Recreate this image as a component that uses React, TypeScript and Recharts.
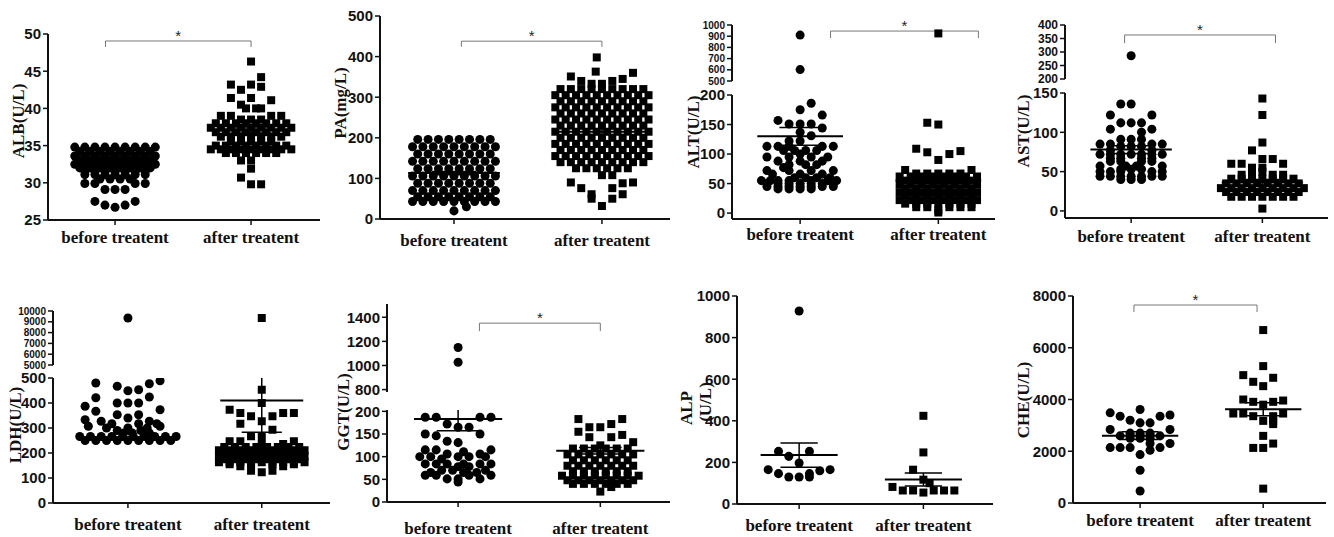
import { ReferenceLine, Scatter, ScatterChart, XAxis, YAxis } from 'recharts'

// row = [value, count] (centred run of dots) or [value, [slot offsets]]
type Row = [number, number | number[]]

const CATEGORIES = ['before treatent', 'after treatent']

const ALB_TICKS = [25, 30, 35, 40, 45, 50]
const ALB_BEFORE: Row[] = [
	[34.8, 9], [34.2, 8], [33.6, 9], [33.0, 8], [32.5, 9], [32.0, 8], [31.6, 7],
	[31.1, 7], [30.5, 4], [29.9, [-3, -2, 2, 3]], [29.1, [-1, 0, 1]],
	[27.5, [-2, 2]], [27.0, [-1, 1]], [26.7, [0]]
]
const ALB_AFTER: Row[] = [
	[46.3, [0]], [44.2, [1]], [43.2, [-2, 0]], [42.9, [1]], [42.5, [-1]],
	[41.4, [-2, 0]], [41.1, [2]], [40.5, [-1]], [40.0, [-0.5, 0.5, 1]],
	[39.0, [-3, -2, 2, 3]], [38.5, [-1, 0, 1]], [38.0, 8], [37.4, 9], [36.8, 8],
	[36.2, 7], [35.6, 5], [35.0, 8], [34.5, 9], [34.0, 6],
	[33.0, [-1, 0]], [31.9, [0]], [30.7, [-1]], [29.8, [0, 1]]
]
const ALB_MEAN = [32.2, 37.1]
const ALB_SEM = [0.25, 0.4]

const PA_TICKS = [0, 100, 200, 300, 400, 500]
const PA_BEFORE: Row[] = [
	[196, 8], [178, 9], [160, 8], [142, 9], [124, 8], [106, 9], [88, 8],
	[70, 9], [55, 8], [43, 9], [30, [1.2]], [20, [0]]
]
const PA_AFTER: Row[] = [
	[398, [-0.5]], [363, [-0.6]], [360, [3]], [351, [-3]], [345, [2]],
	[340, [-2, 1]], [333, [-1, 0]], [320, 9], [305, 10], [290, 9], [275, 10],
	[260, 9], [245, 10], [230, 9], [215, 10], [200, 9], [185, 10], [170, 9],
	[155, 10], [140, 9], [125, 6], [108, [0, 1]], [90, [-3, 3]],
	[88, [2]], [76, [-2, 1]], [61, [-1, 2]], [50, [-1, 1]], [32, [0]]
]
const PA_MEAN = [113, 215]
const PA_SEM = [4, 7]

const ALT_TICKS_TOP = [500, 600, 700, 800, 900, 1000]
const ALT_TICKS = [0, 50, 100, 150, 200]
const ALT_BEFORE: Row[] = [
	[910, [0]], [602, [0]], [186, [1]], [175, [0]], [166, [2]], [157, [-2]],
	[151, [-1, 0, 1]], [144, [2]], [137, [0]], [131, [1]], [122, [-1, 0]],
	[113, [-3, -2, -1, 2, 3]], [106, [-1.5, -0.5, 0.5, 1.5]], [100, [0]],
	[95, [-3, -1, 1, 2.5]], [88, [-2, 0, 2]], [82, [-1, 0.5, 1.5]], [77, [-1.5]],
	[72, [-3, -1, 1, 3]], [66, [-2.5, 0, 2]], [60, [-0.5, 0.5, 1.5, 2.7]],
	[55, [-3.5, -2.7, -2, -1, 1, 2.5, 3.3]], [50, 7], [45, [-3, -2, -1, 0, 1, 2, 3]],
	[41, [-2, -1, 0, 1]]
]
const ALT_AFTER: Row[] = [
	[925, [0]], [153, [-1]], [150, [0]], [109, [-2]], [105, [2]], [103, [-1]],
	[100, [1]], [90, [0]], [73, [-3, 3]], [67, [-2, -1, 0, 1, 2]], [62, 8],
	[55, 7], [48, 8], [42, 7], [35, 8], [29, 7], [22, 8], [16, 7],
	[10, [-2, -1, 1, 2, 3]], [5, [0]], [1, [0]]
]
const ALT_MEAN = [130, 55]
const ALT_SEM = [15, 10]

const AST_TICKS_TOP = [200, 250, 300, 350, 400]
const AST_TICKS = [0, 50, 100, 150]
const AST_BEFORE: Row[] = [
	[286, [0]], [136, [-1, 0]], [122, [-2, 2]], [112, [-1, 0, 1]], [104, [-2, 2]],
	[100, [1]], [91, [-1, 0, 1]], [85, [-3, -2, 2, 3]], [82, [-1, 0, 1]],
	[77, [-2, 2]], [72, [-3, -2, -1, 0, 1, 2, 3]], [67, [-2, -1, 1, 2]],
	[63, [-2, -1, 1, 2]], [57, [-3, -0.5, 0.5, 3]], [53, [-1, 0, 1]],
	[50, [-3, -2, -1, 2, 3]], [44, [-3, -2, -1, 0, 1, 2, 3]], [40, [-1, 0, 1]]
]
const AST_AFTER: Row[] = [
	[143, [0]], [122, [0]], [87, [0]], [77, [-1]], [66, [0, 1]], [60, [-3, -2, 2]],
	[55, [-1, 0]], [50, [0]], [46, [-2, -1, 1, 2]], [41, 7], [35, 8], [29, 9],
	[24, 8], [18, 7], [3, [0]]
]
const AST_MEAN = [78, 36]
const AST_SEM = [5, 4]

const LDH_TICKS_TOP = [5000, 6000, 7000, 8000, 9000, 10000]
const LDH_TICKS = [0, 100, 200, 300, 400, 500]
const LDH_BEFORE: Row[] = [
	[9350, [0]], [489, [3]], [480, [-3]], [477, [2]], [467, [-1]], [453, [1]],
	[449, [0]], [424, [2]], [421, [-3]], [400, [-1, 0, 1]], [387, [-4]], [373, [3]],
	[367, [-3]], [353, [-1, 1]], [340, [0]], [333, [-4]], [327, [-2.5, 2]],
	[317, [-1.5, 1, 2.7]], [307, [-3.7, 3]], [300, [-2, 0, 1.8]], [290, [-1, 1.2]],
	[280, [-0.4, 0.4, 2]], [266, 10], [250, 9]
]
const LDH_AFTER: Row[] = [
	[9350, [0]], [453, [0]], [400, [0]], [373, [-3]], [360, [-2, 2, 3]],
	[347, [-1, 1]], [327, [0]], [317, [-2]], [293, [1]], [267, [-1, 0]],
	[247, [-3, -2, 3]], [236, [0, 2]], [224, 8], [211, 9], [199, 8], [187, 9],
	[175, 8], [163, 9], [155, [-3, -1, 1, 3]], [147, [-2, 2]],
	[129, [-1, 1]], [123, [0]]
]
const LDH_MEAN = [null, 410]
const LDH_SEM = [null, 127]

const GGT_TICKS_TOP = [800, 1000, 1200, 1400]
const GGT_TICKS = [0, 50, 100, 150, 200]
const GGT_BEFORE: Row[] = [
	[1149, [0]], [1027, [0]], [187, [-3, -2, 2, 3]], [172, [-1]], [165, [0, 1]],
	[150, [-3, 2]], [146, [-2]], [134, [-1]], [131, [0]], [115, [-3, -2, 3]],
	[111, [0.5]], [106, [-1, 2]], [100, [-3.5, -2.5, 0, 1, 2.5]], [95, [-1.5]],
	[84, [-3, -2, -1, 0.5, 2, 3]], [78, [0, 1]], [70, [-1.5, -0.5, 2.5]],
	[65, [-2.5, 0.5, 1.7]], [59, [-3, -2, 1, 3]], [51, [-1, 0, 2]], [44, [0]]
]
const GGT_AFTER: Row[] = [
	[183, [-2, 2]], [172, [1]], [165, [-1, 0]], [155, [-2]], [148, [2]],
	[143, [-1, 1]], [132, [3]], [125, [0]], [118, 6], [105, 7], [92, 6], [80, 7],
	[68, 6], [58, 8], [48, 7], [40, 6], [33, [1]], [23, [0]]
]
const GGT_MEAN = [183, 113]
const GGT_SEM = [26, 7]

const ALP_TICKS = [0, 200, 400, 600, 800, 1000]
const ALP_BEFORE: Row[] = [
	[928, [0]], [253, [-2, 1]], [229, [-1]], [197, [0]], [165, [-3, 3]],
	[160, [2]], [146, [-2, 1]], [130, [-1, 0, 1]]
]
const ALP_AFTER: Row[] = [
	[424, [0]], [248, [0]], [165, [-1]], [117, [0]], [100, [0.6]], [82, [-3]],
	[65, [-2, -1, 1, 2, 3]], [55, [0]]
]
const ALP_MEAN = [235, 118]
const ALP_SEM = [58, 31]

const CHE_TICKS = [0, 2000, 4000, 6000, 8000]
const CHE_BEFORE: Row[] = [
	[3613, [0]], [3484, [-3]], [3400, [3]], [3355, [-2, 2]], [3200, [-1]],
	[3097, [0, 1]], [2839, [-3, 3]], [2700, [-1, 0, 1]], [2594, [-2, -1, 0, 1, 2]],
	[2500, [-1, 0, 1]], [2297, [1, 3]], [2142, [-3, -2, -1, 2]], [2039, [1]],
	[1871, [0]], [1265, [0]], [465, [0]]
]
const CHE_AFTER: Row[] = [
	[6684, [0]], [5290, [0]], [4942, [-2]], [4839, [1]], [4684, [-1]], [4516, [0]],
	[4000, [-2]], [3960, [2]], [3910, [-1, 1]], [3800, [0]], [3458, [-3, -2, 2]],
	[3355, [-1, 1]], [3174, [0, 1]], [3050, [1]], [2594, [0]], [2297, [1]],
	[2129, [-1, 0]], [555, [0]]
]
const CHE_MEAN = [2600, 3620]
const CHE_SEM = [150, 250]

type Seg = { domain: [number, number]; ticks: number[]; top: number; bottom: number; font?: number }
type Panel = {
	key: string
	label: string[]
	labelPos: [number, number][]
	left: number
	right: number
	xDomain: [number, number]
	step: number
	xGap: number
	before: Row[]
	after: Row[]
	mean: (number | null)[]
	sem: (number | null)[]
	segs: Seg[]
	bracket?: { seg: number; x: [number, number]; y: number; drop: number }
}

const PANELS: Panel[] = [
	{
		key: 'alb', label: ['ALB(U/L)'], labelPos: [[18, 121]], left: 48, right: 320,
		xDomain: [0.507, 2.507], step: 0.074, xGap: 6,
		before: ALB_BEFORE, after: ALB_AFTER, mean: ALB_MEAN, sem: ALB_SEM,
		segs: [{ domain: [25, 50], ticks: ALB_TICKS, top: 34, bottom: 220 }],
		bracket: { seg: 0, x: [0.93, 2.0], y: 49.06, drop: 48.25 }
	},
	{
		key: 'pa', label: ['PA(mg/L)'], labelPos: [[340, 103]], left: 380, right: 670,
		xDomain: [0.5, 2.46], step: 0.07, xGap: 10,
		before: PA_BEFORE, after: PA_AFTER, mean: PA_MEAN, sem: PA_SEM,
		segs: [{ domain: [0, 500], ticks: PA_TICKS, top: 16, bottom: 219 }],
		bracket: { seg: 0, x: [1.05, 2.0], y: 438, drop: 424 }
	},
	{
		key: 'alt', label: ['ALT(U/L)'], labelPos: [[693, 132]], left: 732, right: 995,
		xDomain: [0.507, 2.41], step: 0.08, xGap: 4,
		before: ALT_BEFORE, after: ALT_AFTER, mean: ALT_MEAN, sem: ALT_SEM,
		segs: [
			{ domain: [500, 1000], ticks: ALT_TICKS_TOP, top: 25, bottom: 81, font: 10 },
			{ domain: [-10, 200], ticks: ALT_TICKS, top: 95, bottom: 219 }
		],
		bracket: { seg: 0, x: [1.22, 2.29], y: 946, drop: 884 }
	},
	{
		key: 'ast', label: ['AST(U/L)'], labelPos: [[1023, 131]], left: 1065, right: 1328,
		xDomain: [0.496, 2.5], step: 0.079, xGap: 7,
		before: AST_BEFORE, after: AST_AFTER, mean: AST_MEAN, sem: AST_SEM,
		segs: [
			{ domain: [200, 400], ticks: AST_TICKS_TOP, top: 25, bottom: 79, font: 12 },
			{ domain: [-9, 150], ticks: AST_TICKS, top: 93, bottom: 218 }
		],
		bracket: { seg: 0, x: [0.95, 2.1], y: 363, drop: 333 }
	},
	{
		key: 'ldh', label: ['LDH(U/L)'], labelPos: [[15, 425]], left: 53, right: 330,
		xDomain: [0.44, 2.51], step: 0.08, xGap: 10,
		before: LDH_BEFORE, after: LDH_AFTER, mean: LDH_MEAN, sem: LDH_SEM,
		segs: [
			{ domain: [5000, 10000], ticks: LDH_TICKS_TOP, top: 311, bottom: 365, font: 10 },
			{ domain: [0, 500], ticks: LDH_TICKS, top: 378, bottom: 503 }
		]
	},
	{
		key: 'ggt', label: ['GGT(U/L)'], labelPos: [[343, 412]], left: 387, right: 670,
		xDomain: [0.5, 2.49], step: 0.077, xGap: 15,
		before: GGT_BEFORE, after: GGT_AFTER, mean: GGT_MEAN, sem: GGT_SEM,
		segs: [
			{ domain: [780, 1510], ticks: GGT_TICKS_TOP, top: 304, bottom: 392 },
			{ domain: [0, 203], ticks: GGT_TICKS, top: 410, bottom: 502 }
		],
		bracket: { seg: 0, x: [1.15, 2.0], y: 1351, drop: 1285 }
	},
	{
		key: 'alp', label: ['ALP', '(U/L)'], labelPos: [[686, 408], [705, 402]], left: 737, right: 993,
		xDomain: [0.5, 2.56], step: 0.083, xGap: 10,
		before: ALP_BEFORE, after: ALP_AFTER, mean: ALP_MEAN, sem: ALP_SEM,
		segs: [{ domain: [0, 1000], ticks: ALP_TICKS, top: 296, bottom: 504 }]
	},
	{
		key: 'che', label: ['CHE(U/L)'], labelPos: [[1023, 400]], left: 1073, right: 1326,
		xDomain: [0.455, 2.51], step: 0.081, xGap: 6,
		before: CHE_BEFORE, after: CHE_AFTER, mean: CHE_MEAN, sem: CHE_SEM,
		segs: [{ domain: [0, 8000], ticks: CHE_TICKS, top: 296, bottom: 503 }],
		bracket: { seg: 0, x: [0.95, 1.95], y: 7652, drop: 7380 }
	}
]

const YW = 50
const TP = 22
const BP = 10
const RP = 4
const XH = 40

const tickFont = {
	fontFamily: '"Liberation Sans Narrow", "Liberation Sans", Arial, sans-serif',
	fontWeight: 700,
	fill: '#111'
}

function spread(rows: Row[], cat: number, step: number) {
	const out: { x: number; y: number }[] = []
	for (const [y, s] of rows) {
		const slots = typeof s === 'number' ? Array.from({ length: s }, (_, i) => i - (s - 1) / 2) : s
		for (const k of slots) out.push({ x: cat + k * step, y })
	}
	return out
}

function Segment({ p, seg, idx }: { p: Panel; seg: Seg; idx: number }) {
	const isBottom = idx === p.segs.length - 1
	const [d0, d1] = seg.domain
	const inside = (v: { y: number }) => v.y >= d0 && v.y <= d1
	const before = spread(p.before, 1, p.step).filter(inside)
	const after = spread(p.after, 2, p.step).filter(inside)
	const w = p.right - p.left + YW + RP
	const bottomPad = isBottom ? XH : BP
	const h = seg.bottom - seg.top + TP + bottomPad

	// mean line + SEM whisker for each group, clipped to this segment
	const lines: { key: string; seg: { x: number; y: number }[]; width: number }[] = []
	;[0, 1].forEach((i) => {
		const m = p.mean[i]
		const s = p.sem[i]
		if (m == null || s == null) return
		const cx = i + 1
		if (m >= d0 && m <= d1)
			lines.push({ key: `m${i}`, seg: [{ x: cx - 0.31, y: m }, { x: cx + 0.31, y: m }], width: 2 })
		const lo = m - s
		const hi = m + s
		if (lo >= d0 && lo <= d1)
			lines.push({ key: `lo${i}`, seg: [{ x: cx - 0.15, y: lo }, { x: cx + 0.15, y: lo }], width: 1.5 })
		if (hi >= d0 && hi <= d1)
			lines.push({ key: `hi${i}`, seg: [{ x: cx - 0.15, y: hi }, { x: cx + 0.15, y: hi }], width: 1.5 })
		const a = Math.max(lo, d0)
		const b = Math.min(hi, d1)
		if (b > a) lines.push({ key: `v${i}`, seg: [{ x: cx, y: a }, { x: cx, y: b }], width: 1.5 })
	})

	const br = p.bracket && p.bracket.seg === idx ? p.bracket : null

	return (
		<div style={{ position: 'absolute', left: p.left - YW, top: seg.top - TP }}>
			<ScatterChart
				width={w}
				height={h}
				margin={{ top: TP, right: RP, bottom: isBottom ? 0 : BP, left: 0 }}
			>
				<XAxis
					type="number"
					dataKey="x"
					domain={p.xDomain}
					ticks={[1, 2]}
					allowDataOverflow
					hide={!isBottom}
					height={XH}
					interval={0}
					tickFormatter={(v: number) => CATEGORIES[v - 1]}
					tick={{ fontFamily: 'Liberation Serif, serif', fontWeight: 700, fontSize: 17, fill: '#111' }}
					tickSize={5}
					tickMargin={p.xGap}
					axisLine={{ stroke: '#111', strokeWidth: 2 }}
					tickLine={{ stroke: '#111', strokeWidth: 1.5 }}
				/>
				<YAxis
					type="number"
					dataKey="y"
					domain={seg.domain}
					ticks={seg.ticks}
					allowDataOverflow
					interval={0}
					width={YW}
					tick={{ ...tickFont, fontSize: seg.font ?? 15 }}
					tickSize={5}
					tickMargin={2}
					axisLine={{ stroke: '#111', strokeWidth: 2 }}
					tickLine={{ stroke: '#111', strokeWidth: 1.5 }}
				/>
				<Scatter data={before} dataKey="y" fill="#000" shape="circle" isAnimationActive={false} />
				<Scatter data={after} dataKey="y" fill="#000" shape="square" isAnimationActive={false} />
				{lines.map((l) => (
					<ReferenceLine key={l.key} segment={l.seg} stroke="#000" strokeWidth={l.width} />
				))}
				{br && (
					<ReferenceLine
						segment={[{ x: br.x[0], y: br.y }, { x: br.x[1], y: br.y }]}
						stroke="#777"
						strokeWidth={1}
						label={{ value: '*', position: 'top', offset: 0, fill: '#222', fontSize: 15, fontFamily: 'Liberation Sans, sans-serif' }}
					/>
				)}
				{br && (
					<ReferenceLine segment={[{ x: br.x[0], y: br.y }, { x: br.x[0], y: br.drop }]} stroke="#777" strokeWidth={1} />
				)}
				{br && (
					<ReferenceLine segment={[{ x: br.x[1], y: br.y }, { x: br.x[1], y: br.drop }]} stroke="#777" strokeWidth={1} />
				)}
			</ScatterChart>
		</div>
	)
}

export default function App() {
	return (
		<div
			style={{
				position: 'absolute',
				left: 0,
				top: 0,
				width: 1334,
				height: 537,
				overflow: 'hidden',
				background: '#fff'
			}}
		>
			{PANELS.map((p) => p.segs.map((seg, i) => <Segment key={`${p.key}-${i}`} p={p} seg={seg} idx={i} />))}
			<svg width={1334} height={537} style={{ position: 'absolute', left: 0, top: 0, pointerEvents: 'none' }}>
				{PANELS.map((p) =>
					p.label.map((t, i) => {
						const [x, y] = p.labelPos[i]
						return (
							<text
								key={`${p.key}-l${i}`}
								x={x}
								y={y}
								transform={`rotate(-90 ${x} ${y})`}
								textAnchor="middle"
								dominantBaseline="central"
								fontFamily="Liberation Serif, serif"
								fontWeight={700}
								fontSize={17}
								fill="#111"
							>
								{t}
							</text>
						)
					})
				)}
			</svg>
		</div>
	)
}
